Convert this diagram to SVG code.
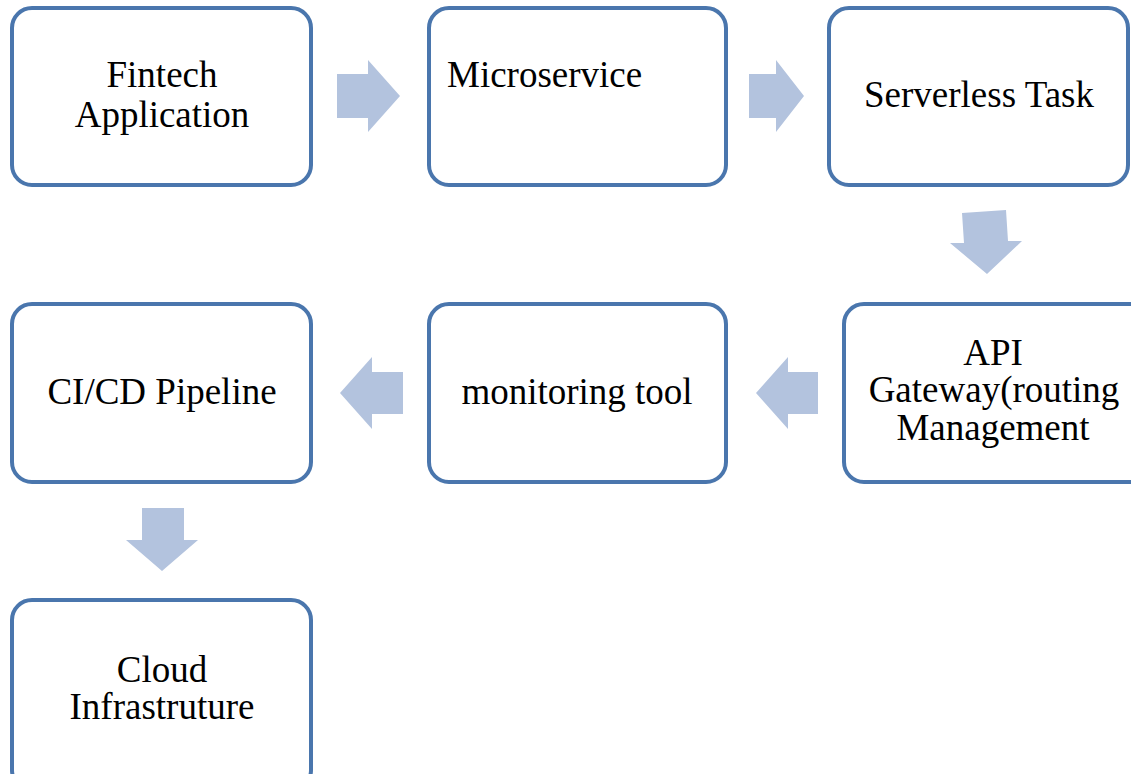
<svg xmlns="http://www.w3.org/2000/svg" width="1131" height="774" viewBox="0 0 1131 774">
<style>
.box{fill:#fff;stroke:#4a76ad;stroke-width:4}
.arr{fill:#b3c3de}
text{font-family:"Liberation Serif","Times New Roman",serif;font-size:37px;fill:#000}
.c{text-anchor:middle}
</style>
<rect width="1131" height="774" fill="#fff"/>
<g id="connectors">
<polygon class="arr" points="337,74 368,74 368,60 400,96 368,132 368,118 337,118"/>
<polygon class="arr" points="749,74 776,74 776,60 804,96 776,132 776,118 749,118"/>
<polygon class="arr" points="962,213 1006,210 1008,241 1022,241 987,274 950,243 964,243"/>
<polygon class="arr" points="818,372 788,372 788,357 756,393 788,429 788,414 818,414"/>
<polygon class="arr" points="403,372 372,372 372,357 340,393 372,429 372,414 403,414"/>
<polygon class="arr" points="142,508 184,508 184,540 198,540 162,571 126,540 142,540"/>
</g>
<g id="n1"><rect class="box" x="12" y="8" width="299" height="177" rx="20"/>
<text class="c" x="162" y="87">Fintech</text><text class="c" x="162" y="127">Application</text></g>
<g id="n2"><rect class="box" x="429" y="8" width="297" height="177" rx="20"/>
<text x="447" y="87">Microservice</text></g>
<g id="n3"><rect class="box" x="829" y="8" width="299" height="177" rx="20"/>
<text class="c" x="979" y="107">Serverless Task</text></g>
<g id="n4"><rect class="box" x="844" y="304" width="310" height="178" rx="20"/>
<text class="c" x="993" y="365">API</text><text class="c" x="994" y="402">Gateway(routing</text><text class="c" x="993" y="440">Management</text></g>
<g id="n5"><rect class="box" x="429" y="304" width="297" height="178" rx="20"/>
<text class="c" x="577" y="404">monitoring tool</text></g>
<g id="n6"><rect class="box" x="12" y="304" width="299" height="178" rx="20"/>
<text class="c" x="162" y="404">CI/CD Pipeline</text></g>
<g id="n7"><rect class="box" x="12" y="600" width="299" height="190" rx="20"/>
<text class="c" x="162" y="682">Cloud</text><text class="c" x="162" y="719">Infrastruture</text></g>
</svg>
